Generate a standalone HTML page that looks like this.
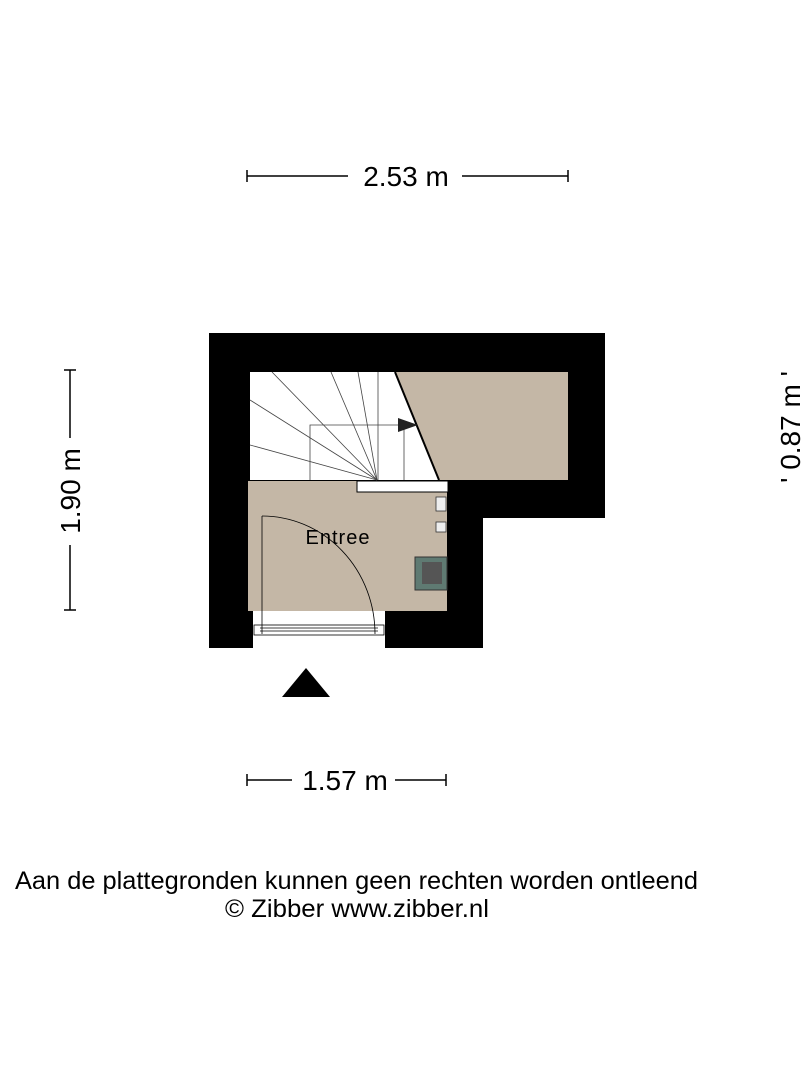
<!DOCTYPE html>
<html><head><style>
body{margin:0;background:#fff;}
svg text{font-family:"Liberation Sans",sans-serif;fill:#000;}
</style></head><body>
<svg width="810" height="1080" viewBox="0 0 810 1080" xmlns="http://www.w3.org/2000/svg">
<line x1="247" y1="176" x2="348" y2="176" stroke="#000" stroke-width="1.5"/>
<line x1="462" y1="176" x2="568" y2="176" stroke="#000" stroke-width="1.5"/>
<line x1="247" y1="170" x2="247" y2="182" stroke="#000" stroke-width="1.5"/>
<line x1="568" y1="170" x2="568" y2="182" stroke="#000" stroke-width="1.5"/>
<text x="406" y="186" font-size="28" text-anchor="middle">2.53 m</text>
<line x1="70" y1="370" x2="70" y2="438" stroke="#000" stroke-width="1.5"/>
<line x1="70" y1="545" x2="70" y2="610" stroke="#000" stroke-width="1.5"/>
<line x1="64" y1="370" x2="76" y2="370" stroke="#000" stroke-width="1.5"/>
<line x1="64" y1="610" x2="76" y2="610" stroke="#000" stroke-width="1.5"/>
<text transform="translate(80,491) rotate(-90)" font-size="28" text-anchor="middle">1.90 m</text>
<text transform="translate(800,427) rotate(-90)" font-size="28" text-anchor="middle">' 0.87 m '</text>
<line x1="247" y1="780" x2="292" y2="780" stroke="#000" stroke-width="1.5"/>
<line x1="395" y1="780" x2="446" y2="780" stroke="#000" stroke-width="1.5"/>
<line x1="247" y1="774" x2="247" y2="786" stroke="#000" stroke-width="1.5"/>
<line x1="446" y1="774" x2="446" y2="786" stroke="#000" stroke-width="1.5"/>
<text x="345" y="790" font-size="28" text-anchor="middle">1.57 m</text>
<polygon points="209,333 605,333 605,518 483,518 483,648 209,648" fill="#000"/>
<polygon points="395,372 568,372 568,480 439,480" fill="#c4b7a6"/>
<polygon points="395,372 439,480 250,480 250,372" fill="#fff"/>
<g stroke="#444" stroke-width="0.8" fill="none">
<line x1="272" y1="372" x2="377" y2="480"/>
<line x1="250" y1="400" x2="377" y2="480"/>
<line x1="250" y1="445" x2="377" y2="480"/>
<line x1="331" y1="372" x2="377" y2="480"/>
<line x1="358" y1="372" x2="377" y2="480"/>
<line x1="378" y1="372" x2="378" y2="480"/>
<polyline points="310,480 310,425 410,425"/>
<line x1="404" y1="425" x2="404" y2="480"/>
</g>
<line x1="395" y1="372" x2="439" y2="480" stroke="#000" stroke-width="2"/>
<polygon points="398,418 418,425 398,432" fill="#222"/>
<rect x="248" y="481" width="199" height="130" fill="#c4b7a6"/>
<rect x="357" y="481" width="91" height="11" fill="#fff" stroke="#000" stroke-width="1"/>
<rect x="436" y="497" width="10" height="14" fill="#eee" stroke="#333" stroke-width="0.8"/>
<rect x="436" y="522" width="10" height="10" fill="#eee" stroke="#333" stroke-width="0.8"/>
<rect x="415" y="557" width="32" height="33" fill="#5f7a72" stroke="#333"/>
<rect x="422" y="562" width="20" height="22" fill="#555"/>
<rect x="253" y="611" width="132" height="37" fill="#fff"/>
<g stroke="#000" stroke-width="0.8" fill="none">
<rect x="254" y="625" width="130" height="10"/>
<line x1="260" y1="628" x2="378" y2="628"/>
<line x1="260" y1="631" x2="378" y2="631"/>
<line x1="262" y1="516" x2="262" y2="634"/>
<path d="M262,516 A113,118 0 0 1 375,634"/>
</g>
<text x="338" y="544" font-size="20" text-anchor="middle" letter-spacing="1">Entree</text>
<polygon points="306,668 330,697 282,697" fill="#000"/>
<text x="15" y="889" font-size="25" textLength="683" lengthAdjust="spacingAndGlyphs">Aan de plattegronden kunnen geen rechten worden ontleend</text>
<text x="225" y="917" font-size="25" textLength="264" lengthAdjust="spacingAndGlyphs">© Zibber www.zibber.nl</text>
</svg>
</body></html>
